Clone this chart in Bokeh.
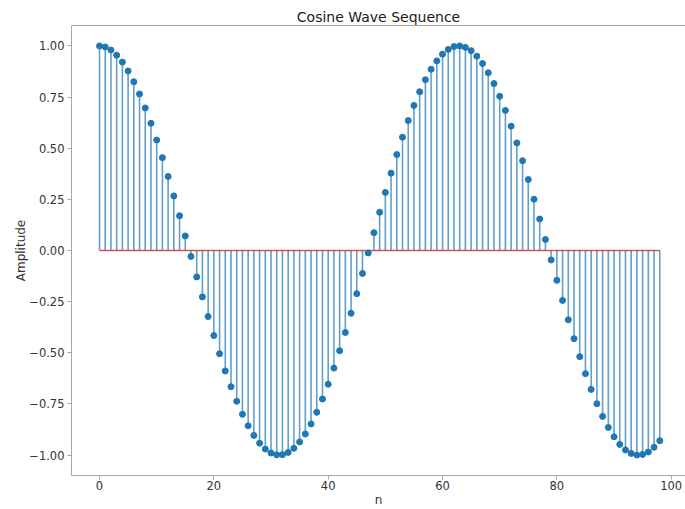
from bokeh.plotting import figure
from bokeh.models import Range1d, FixedTicker, CustomJSTickFormatter, LinearAxis, ColumnDataSource
from bokeh.embed import file_html
from bokeh.resources import INLINE

# Data (cosine sequence, n = 0..98)
n = list(range(99))
amplitude = [
    1.000, 0.995, 0.980, 0.955, 0.921, 0.878, 0.825, 0.765, 0.697, 0.622,
    0.540, 0.454, 0.362, 0.267, 0.170, 0.071, -0.029, -0.129, -0.227, -0.323,
    -0.416, -0.505, -0.589, -0.666, -0.737, -0.801, -0.857, -0.904, -0.942, -0.971,
    -0.990, -0.999, -0.998, -0.987, -0.967, -0.936, -0.897, -0.848, -0.791, -0.726,
    -0.654, -0.575, -0.490, -0.401, -0.307, -0.211, -0.112, -0.012, 0.087, 0.187,
    0.284, 0.378, 0.469, 0.554, 0.635, 0.709, 0.776, 0.835, 0.886, 0.927,
    0.960, 0.983, 0.997, 1.000, 0.993, 0.977, 0.950, 0.914, 0.869, 0.816,
    0.754, 0.685, 0.608, 0.526, 0.439, 0.347, 0.251, 0.154, 0.054, -0.046,
    -0.146, -0.244, -0.339, -0.431, -0.519, -0.602, -0.679, -0.749, -0.811, -0.865,
    -0.911, -0.948, -0.975, -0.992, -1.000, -0.997, -0.985, -0.962, -0.930,
]
baseline = [0.0] * len(n)
x_ticks = [0, 20, 40, 60, 80, 100]
y_ticks = [-1.0, -0.75, -0.5, -0.25, 0.0, 0.25, 0.5, 0.75, 1.0]

FONT = "DejaVu Sans"
SPINE = "#a8a8a8"
TEXT = "#333333"

src = ColumnDataSource(dict(n=n, amp=amplitude, base=baseline))

p = figure(width=685, height=509, output_backend="svg", toolbar_location=None,
           x_range=Range1d(-4.9, 102.5), y_range=Range1d(-1.1, 1.1),
           title="Cosine Wave Sequence",
           min_border_left=71, min_border_right=0, min_border_top=25, min_border_bottom=33)

p.background_fill_color = "white"
p.border_fill_color = "white"
p.outline_line_color = None
p.grid.visible = False

p.title.align = "center"
p.title.text_font = FONT
p.title.text_font_size = "14px"
p.title.text_font_style = "normal"
p.title.text_color = "#1a1a1a"
p.title.standoff = 1

# stems
p.segment(x0="n", y0="base", x1="n", y1="amp", source=src,
          line_color="#1f77b4", line_width=1.6, line_alpha=0.7)
# baseline
p.segment(x0=n[0], y0=baseline[0], x1=n[-1], y1=baseline[-1],
          line_color="#d62728", line_width=1.5, line_alpha=0.8)
# markers
p.scatter(x="n", y="amp", source=src, size=6, color="#1f77b4")

for ax in (p.xaxis[0], p.yaxis[0]):
    ax.axis_line_color = SPINE
    ax.major_tick_line_color = SPINE
    ax.minor_tick_line_color = None
    ax.major_tick_out = 4
    ax.major_tick_in = 0
    ax.major_label_text_font = FONT
    ax.major_label_text_font_size = "11.5px"
    ax.major_label_text_color = TEXT
    ax.axis_label_text_font = FONT
    ax.axis_label_text_font_size = "12px"
    ax.axis_label_text_font_style = "normal"
    ax.axis_label_text_color = TEXT

p.xaxis[0].ticker = FixedTicker(ticks=x_ticks)
p.yaxis[0].ticker = FixedTicker(ticks=y_ticks)
p.yaxis[0].formatter = CustomJSTickFormatter(
    code="return (tick < 0 ? '\u2212' : '') + Math.abs(tick).toFixed(2);")
p.xaxis[0].axis_label = "n"
p.yaxis[0].axis_label = "Amplitude"
p.xaxis[0].major_label_standoff = 1
p.yaxis[0].major_label_standoff = 3
p.xaxis[0].axis_label_standoff = 0
p.yaxis[0].axis_label_standoff = -2

top = LinearAxis(axis_line_color=SPINE, major_tick_line_color=None, minor_tick_line_color=None,
                 major_label_text_font_size="0px", major_label_text_alpha=0,
                 ticker=FixedTicker(ticks=[]))
p.add_layout(top, "above")

open("out.html", "w").write(file_html(p, INLINE))
